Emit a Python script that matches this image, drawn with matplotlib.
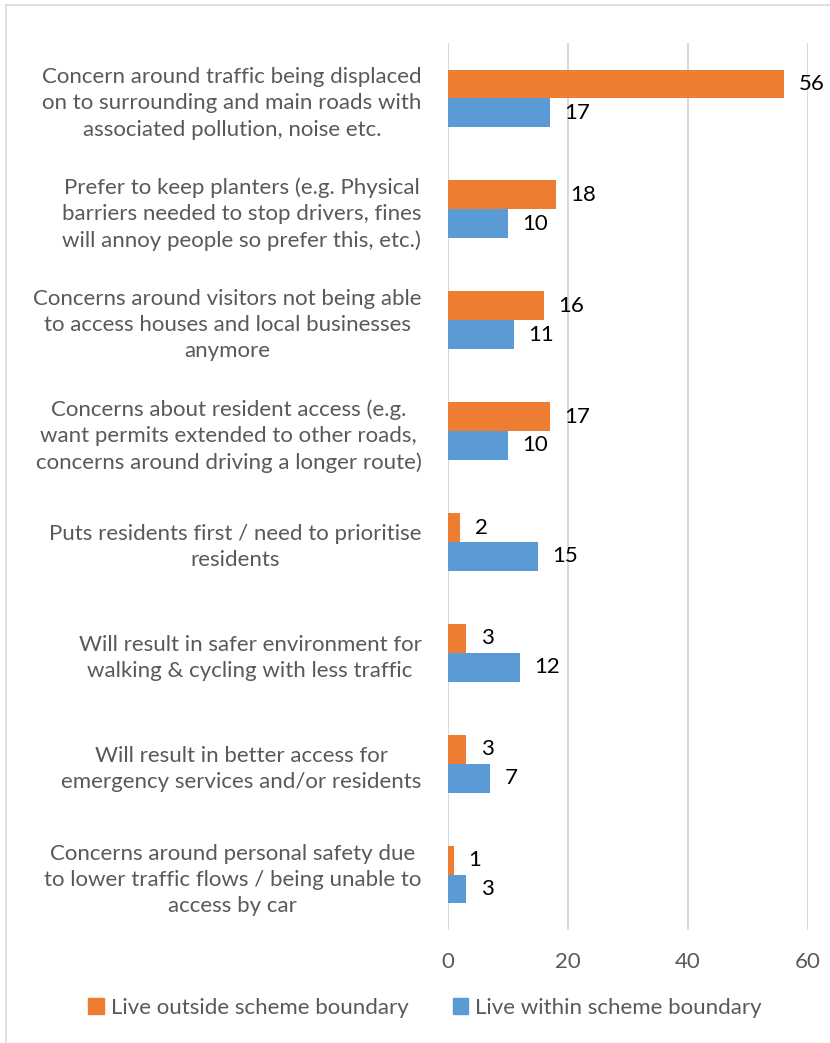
import matplotlib.pyplot as plt
from matplotlib.lines import Line2D
from matplotlib.patches import Patch

categories = [
    "Concern around traffic being displaced\non to surrounding and main roads with\nassociated pollution, noise etc.",
    "Prefer to keep planters (e.g. Physical\nbarriers needed to stop drivers, fines\nwill annoy people so prefer this, etc.)",
    "Concerns around visitors not being able\nto access houses and local businesses\nanymore",
    "Concerns about resident access (e.g.\nwant permits extended to other roads,\nconcerns around driving a longer route)",
    "Puts residents first / need to prioritise\nresidents",
    "Will result in safer environment for\nwalking & cycling with less traffic",
    "Will result in better access for\nemergency services and/or residents",
    "Concerns around personal safety due\nto lower traffic flows / being unable to\naccess by car",
]
outside = [56, 18, 16, 17, 2, 3, 3, 1]
within = [17, 10, 11, 10, 15, 12, 7, 3]
series_names = ["Live outside scheme boundary", "Live within scheme boundary"]
x_ticks = [0, 20, 40, 60]

ORANGE = "#ED7D31"
BLUE = "#5B9BD5"
GREY = "#595959"
GRID = "#D9D9D9"
FS = 16

plt.rcParams["font.family"] = ["Lato", "DejaVu Sans"]

fig = plt.figure(figsize=(8.3, 10.43), dpi=100)
ax = fig.add_axes([448 / 830, 1 - 930 / 1043, 360 / 830, 887 / 1043])

h = 0.26
ypos = list(range(len(categories)))
ax.barh([y - h / 2 for y in ypos], outside, height=h, color=ORANGE, zorder=3)
ax.barh([y + h / 2 for y in ypos], within, height=h, color=BLUE, zorder=3)

for y, v in zip(ypos, outside):
    ax.annotate(str(v), (v, y - h / 2), xytext=(10.5, 0), textcoords="offset points",
                va="center", ha="left", fontsize=FS, color="black")
for y, v in zip(ypos, within):
    ax.annotate(str(v), (v, y + h / 2), xytext=(10.5, 0), textcoords="offset points",
                va="center", ha="left", fontsize=FS, color="black")

ax.set_xlim(0, 60)
ax.set_ylim(len(categories) - 0.5, -0.5)
ax.set_xticks(x_ticks)
ax.set_yticks(ypos)
ax.set_yticklabels(categories, multialignment="center", linespacing=1.38)
ax.tick_params(axis="y", length=0, pad=19, labelsize=FS, labelcolor=GREY)
ax.tick_params(axis="x", length=0, pad=16, labelsize=FS, labelcolor=GREY)
ax.xaxis.grid(True, color=GRID, linewidth=1.5, zorder=0)
for s in ax.spines.values():
    s.set_visible(False)

handles = [Patch(color=ORANGE), Patch(color=BLUE)]
fig.legend(handles, series_names, loc="center", bbox_to_anchor=(0.512, 1 - 1008 / 1043),
           ncol=2, frameon=False, fontsize=FS, labelcolor=GREY,
           handlelength=0.7, handleheight=0.7, handletextpad=0.3, columnspacing=2.0)

# light chart border
fig.add_artist(Line2D([6 / 830, 6 / 830], [0, 1 - 5 / 1043], color=GRID, linewidth=1.2))
fig.add_artist(Line2D([6 / 830, 1], [1 - 5 / 1043, 1 - 5 / 1043], color=GRID, linewidth=1.2))

fig.savefig("out.png", dpi=100, facecolor="white")
